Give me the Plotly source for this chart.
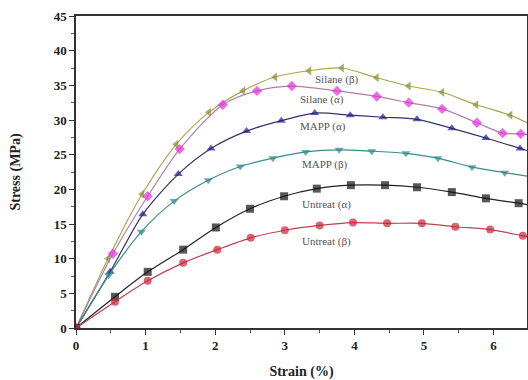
import plotly.graph_objects as go

# ---- data ----
silane_b_x = [0, 0.46, 0.95, 1.44, 1.91, 2.40, 2.86, 3.35, 3.82, 4.32, 4.78, 5.26, 5.75, 6.24, 6.48]
silane_b_y = [0, 10.0, 19.3, 26.5, 31.1, 34.2, 36.2, 37.1, 37.5, 36.1, 34.9, 34.0, 32.2, 30.7, 29.6]

silane_a_x = [0, 0.53, 1.03, 1.49, 2.11, 2.60, 3.10, 3.75, 4.32, 4.78, 5.26, 5.76, 6.13, 6.39, 6.48]
silane_a_y = [0, 10.7, 19.0, 25.8, 32.2, 34.2, 34.9, 34.2, 33.4, 32.5, 31.6, 29.6, 28.1, 28.0, 27.9]

mapp_a_x = [0, 0.49, 0.96, 1.47, 1.94, 2.45, 2.95, 3.43, 3.94, 4.41, 4.90, 5.40, 5.89, 6.38, 6.48]
mapp_a_y = [0, 8.1, 16.4, 22.2, 25.9, 28.4, 29.9, 31.0, 30.7, 30.4, 30.1, 28.8, 27.4, 25.9, 25.6]

mapp_b_x = [0, 0.47, 0.94, 1.41, 1.90, 2.36, 2.83, 3.30, 3.78, 4.25, 4.74, 5.20, 5.69, 6.16, 6.48]
mapp_b_y = [0, 7.6, 13.9, 18.3, 21.3, 23.3, 24.5, 25.4, 25.7, 25.5, 25.2, 24.5, 23.2, 22.4, 21.9]

untreat_a_x = [0, 0.56, 1.03, 1.54, 2.01, 2.50, 2.99, 3.46, 3.95, 4.44, 4.90, 5.40, 5.89, 6.36, 6.48]
untreat_a_y = [0, 4.5, 8.1, 11.3, 14.5, 17.2, 19.0, 20.1, 20.6, 20.6, 20.3, 19.6, 18.7, 18.0, 17.8]

untreat_b_x = [0, 0.56, 1.03, 1.54, 2.03, 2.51, 3.00, 3.50, 3.98, 4.47, 4.97, 5.45, 5.95, 6.42, 6.48]
untreat_b_y = [0, 3.8, 6.8, 9.4, 11.3, 13.0, 14.1, 14.8, 15.2, 15.1, 15.1, 14.6, 14.2, 13.3, 13.2]

labels = ["Silane (β)", "Silane (α)", "MAPP (α)", "MAPP (β)", "Untreat (α)", "Untreat (β)"]
label_x = [3.75, 3.53, 3.55, 3.58, 3.60, 3.60]
label_y = [35.8, 33.0, 29.0, 23.6, 17.8, 12.5]

x_ticks = [0, 1, 2, 3, 4, 5, 6]
y_ticks = [0, 5, 10, 15, 20, 25, 30, 35, 40, 45]

series = [
    (silane_b_x, silane_b_y, "#8a8a30", "#a8a850", "triangle-left"),
    (silane_a_x, silane_a_y, "#e030d8", "#b080a8", "diamond"),
    (mapp_a_x, mapp_a_y, "#1c1c8c", "#34346a", "triangle-up"),
    (mapp_b_x, mapp_b_y, "#2a8a8a", "#3c8c8c", "triangle-down"),
    (untreat_a_x, untreat_a_y, "#111111", "#222222", "square"),
    (untreat_b_x, untreat_b_y, "#cc2238", "#c04050", "circle"),
]

fig = go.Figure()
for (xs, ys, mc, lc, sym), name in zip(series, labels):
    sizes = [8] * (len(xs) - 1) + [0]
    fig.add_trace(go.Scatter(
        x=xs, y=ys, name=name, mode="lines+markers",
        line=dict(color=lc, width=1.2, shape="spline", smoothing=0.8),
        marker=dict(symbol=sym, color=mc, size=sizes, line=dict(width=0)),
        showlegend=False, cliponaxis=True,
    ))

for t, xx, yy in zip(labels, label_x, label_y):
    fig.add_annotation(x=xx, y=yy, text=t, showarrow=False,
                       font=dict(family="Liberation Serif", size=11, color="#555555"))

serif = "Liberation Serif"
fig.update_layout(
    width=528, height=380,
    margin=dict(l=76, r=1, t=16, b=52, autoexpand=False),
    plot_bgcolor="white", paper_bgcolor="white",
    font=dict(family=serif, size=13, color="#222222"),
    xaxis=dict(
        range=[0, 6.48], tickvals=x_ticks, ticktext=[f"<b>{v}</b>" for v in x_ticks],
        automargin=False,
        showgrid=False, zeroline=False, showline=True, linecolor="#333333", linewidth=1.5,
        mirror=True, ticks="outside", ticklen=5, tickwidth=1, tickcolor="#333333",
        minor=dict(dtick=0.5, tick0=0, ticks="outside", ticklen=3, tickcolor="#555555"),
        title=dict(text="<b>Strain (%)</b>", font=dict(family=serif, size=14, color="#222222"), standoff=16),
    ),
    yaxis=dict(
        range=[0, 45], tickvals=y_ticks, ticktext=[f"<b>{v}</b>" for v in y_ticks],
        automargin=False,
        showgrid=False, zeroline=False, showline=True, linecolor="#333333", linewidth=1.5,
        mirror=True, ticks="outside", ticklen=5, tickwidth=1, tickcolor="#333333",
        minor=dict(dtick=2.5, tick0=0, ticks="outside", ticklen=3, tickcolor="#555555"),
        title=dict(text="<b>Stress (MPa)</b>", font=dict(family=serif, size=14, color="#222222"), standoff=30),
    ),
)

fig.write_html("out.html", config={"displayModeBar": False},
               post_script="document.body.style.margin='0';")
